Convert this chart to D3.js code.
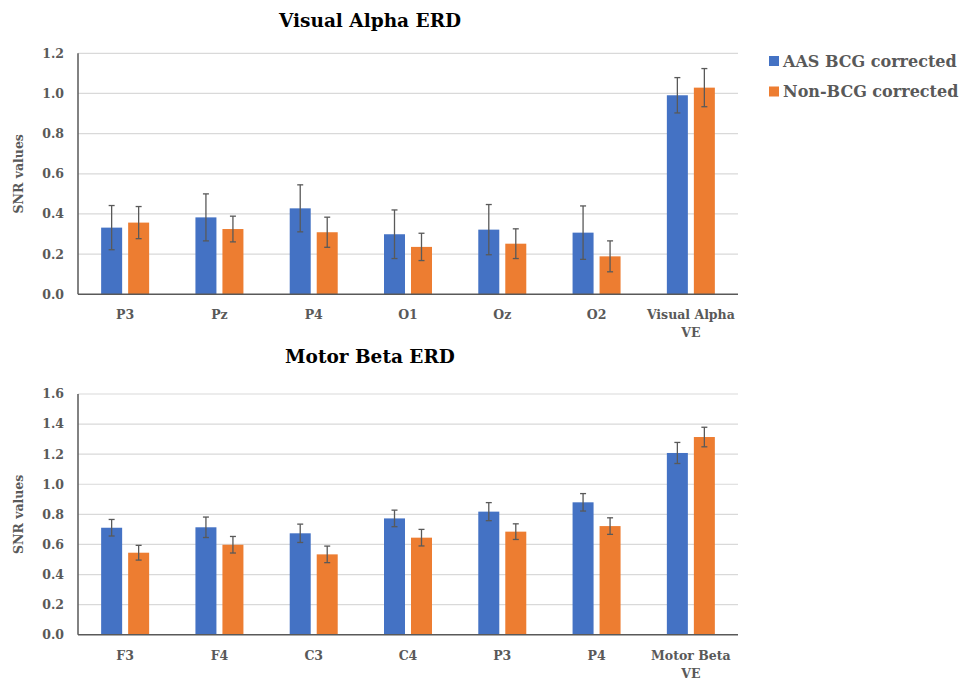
<!DOCTYPE html>
<html>
<head>
<meta charset="utf-8">
<script src="https://cdn.jsdelivr.net/npm/d3@7"></script>
<style>
  body { margin: 0; background: #fff; }
</style>
</head>
<body>
<div id="chart"></div>
<script>
// series names
var seriesNames = ["AAS BCG corrected", "Non-BCG corrected"];
var seriesColors = ["#4472C4", "#ED7D31"];

// top panel: Visual Alpha ERD
var visualCats = ["P3", "Pz", "P4", "O1", "Oz", "O2", "Visual Alpha|VE"];
var visualAAS = [0.332, 0.383, 0.428, 0.299, 0.322, 0.307, 0.991];
var visualAASErr = [0.11, 0.117, 0.117, 0.121, 0.125, 0.133, 0.088];
var visualNon = [0.357, 0.325, 0.309, 0.236, 0.252, 0.189, 1.029];
var visualNonErr = [0.08, 0.064, 0.075, 0.068, 0.074, 0.077, 0.095];
var visualTicks = [0, 0.2, 0.4, 0.6, 0.8, 1.0, 1.2];

// bottom panel: Motor Beta ERD
var motorCats = ["F3", "F4", "C3", "C4", "P3", "P4", "Motor Beta|VE"];
var motorAAS = [0.711, 0.714, 0.674, 0.773, 0.818, 0.880, 1.208];
var motorAASErr = [0.055, 0.068, 0.061, 0.055, 0.06, 0.058, 0.07];
var motorNon = [0.545, 0.598, 0.534, 0.645, 0.685, 0.722, 1.314];
var motorNonErr = [0.049, 0.055, 0.055, 0.055, 0.052, 0.055, 0.065];
var motorTicks = [0, 0.2, 0.4, 0.6, 0.8, 1.0, 1.2, 1.4, 1.6];

var width = 960, height = 680;
var svg = d3.select("#chart").append("svg")
    .attr("width", width)
    .attr("height", height);

var gray = "#595959";
var serif = "DejaVu Serif";

//Draw one panel
function drawPanel(opts) {
    var x = d3.scaleBand().domain(opts.cats).range([78, 738]);
    var y = d3.scaleLinear().domain([0, opts.max]).range([opts.bottom, opts.top]);
    var bw = x.bandwidth();
    var x1 = d3.scaleBand().domain(seriesNames)
        .range([bw / 2 - 24, bw / 2 + 24]).paddingInner(6 / 27);

    var g = svg.append("g");

    //title
    g.append("text")
        .attr("x", 370).attr("y", opts.titleY)
        .attr("text-anchor", "middle")
        .attr("font-family", serif)
        .attr("font-weight", "bold")
        .style("font-size", "18.5px")
        .attr("fill", "#000")
        .text(opts.title);

    //gridlines
    g.append("g").selectAll("line")
        .data(opts.ticks.filter(function(d) { return d > 0; }))
        .enter().append("line")
        .attr("x1", 78).attr("x2", 738)
        .attr("y1", function(d) { return y(d); })
        .attr("y2", function(d) { return y(d); })
        .attr("stroke", "#d9d9d9")
        .attr("stroke-width", 1.2);

    //y tick labels
    g.append("g").selectAll("text")
        .data(opts.ticks)
        .enter().append("text")
        .attr("x", 64)
        .attr("y", function(d) { return y(d); })
        .attr("dy", "0.35em")
        .attr("text-anchor", "end")
        .attr("font-family", serif)
        .attr("font-weight", "bold")
        .attr("fill", gray)
        .style("font-size", "12.5px")
        .text(d3.format(".1f"));

    //y axis title
    g.append("text")
        .attr("transform", "translate(23," + ((opts.top + opts.bottom) / 2) + ") rotate(-90)")
        .attr("text-anchor", "middle")
        .attr("font-family", serif)
        .attr("font-weight", "bold")
        .attr("fill", gray)
        .style("font-size", "12.5px")
        .text("SNR values");

    //bars
    var rows = opts.cats.map(function(c, i) {
        return [
            {cat: c, s: seriesNames[0], v: opts.a[i], e: opts.ae[i], color: seriesColors[0]},
            {cat: c, s: seriesNames[1], v: opts.b[i], e: opts.be[i], color: seriesColors[1]}
        ];
    });
    var flat = d3.merge(rows);

    g.append("g").selectAll("rect")
        .data(flat)
        .enter().append("rect")
        .attr("x", function(d) { return x(d.cat) + x1(d.s); })
        .attr("width", x1.bandwidth())
        .attr("y", function(d) { return y(d.v); })
        .attr("height", function(d) { return y(0) - y(d.v); })
        .attr("fill", function(d) { return d.color; });

    //error bars
    var eb = g.append("g").selectAll("g")
        .data(flat)
        .enter().append("g")
        .attr("stroke", gray)
        .attr("stroke-width", 1.3);
    function cx(d) { return x(d.cat) + x1(d.s) + x1.bandwidth() / 2; }
    eb.append("line")
        .attr("x1", cx).attr("x2", cx)
        .attr("y1", function(d) { return y(d.v + d.e); })
        .attr("y2", function(d) { return y(d.v - d.e); });
    eb.append("line")
        .attr("x1", function(d) { return cx(d) - 3; })
        .attr("x2", function(d) { return cx(d) + 3; })
        .attr("y1", function(d) { return y(d.v + d.e); })
        .attr("y2", function(d) { return y(d.v + d.e); });
    eb.append("line")
        .attr("x1", function(d) { return cx(d) - 3; })
        .attr("x2", function(d) { return cx(d) + 3; })
        .attr("y1", function(d) { return y(d.v - d.e); })
        .attr("y2", function(d) { return y(d.v - d.e); });

    //axis lines
    g.append("line")
        .attr("x1", 78).attr("x2", 78)
        .attr("y1", opts.top).attr("y2", y(0))
        .attr("stroke", gray).attr("stroke-width", 1.5);
    g.append("line")
        .attr("x1", 78).attr("x2", 738)
        .attr("y1", y(0)).attr("y2", y(0))
        .attr("stroke", gray).attr("stroke-width", 1.5);

    //category labels (| splits lines)
    var lab = g.append("g").selectAll("text")
        .data(opts.cats)
        .enter().append("text")
        .attr("x", function(d) { return x(d) + bw / 2; })
        .attr("y", y(0) + 25)
        .attr("text-anchor", "middle")
        .attr("font-family", serif)
        .attr("font-weight", "bold")
        .attr("fill", gray)
        .style("font-size", "12.5px");
    lab.selectAll("tspan")
        .data(function(d) { return d.split("|"); })
        .enter().append("tspan")
        .attr("x", function() { return d3.select(this.parentNode).attr("x"); })
        .attr("dy", function(d, i) { return i === 0 ? 0 : 18; })
        .text(function(d) { return d; });
}

drawPanel({
    title: "Visual Alpha ERD", titleY: 27,
    cats: visualCats, a: visualAAS, ae: visualAASErr, b: visualNon, be: visualNonErr,
    ticks: visualTicks, max: 1.2, top: 53.3, bottom: 294.3
});

drawPanel({
    title: "Motor Beta ERD", titleY: 363,
    cats: motorCats, a: motorAAS, ae: motorAASErr, b: motorNon, be: motorNonErr,
    ticks: motorTicks, max: 1.6, top: 394, bottom: 634.7
});

//legend
var legend = svg.append("g").selectAll("g")
    .data(seriesNames)
    .enter().append("g")
    .attr("transform", function(d, i) { return "translate(769," + (56 + i * 30.5) + ")"; });
legend.append("rect")
    .attr("width", 10).attr("height", 10)
    .attr("fill", function(d, i) { return seriesColors[i]; });
legend.append("text")
    .attr("x", 14).attr("y", 5)
    .attr("dy", "0.35em")
    .attr("font-family", serif)
    .attr("font-weight", "bold")
    .attr("fill", gray)
    .style("font-size", "16px")
    .text(function(d) { return d; });
</script>
</body>
</html>
